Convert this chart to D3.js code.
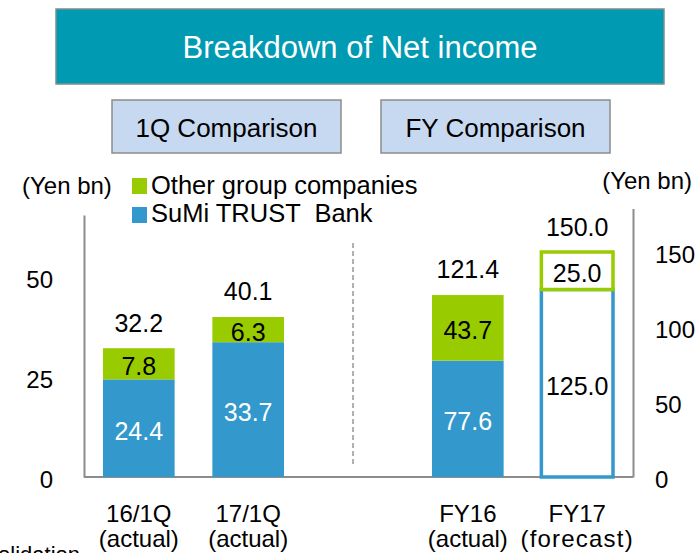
<!DOCTYPE html>
<html>
<head>
<meta charset="utf-8">
<script src="https://cdn.jsdelivr.net/npm/d3@7"></script>
<style>
  html, body { margin: 0; padding: 0; background: #fff; overflow: hidden; }
  svg { display: block; font-family: "Liberation Sans", Arial, sans-serif; }
</style>
</head>
<body>
<div id="app"></div>
<script>
// values (Yen bn)
const quarters = ['16/1Q', '17/1Q']
const qBank = [24.4, 33.7]
const qOther = [7.8, 6.3]
const qTotal = [32.2, 40.1]

const years = ['FY16', 'FY17']
const fyBank = [77.6, 125.0]
const fyOther = [43.7, 25.0]
const fyTotal = [121.4, 150.0]

const qSub = ['(actual)', '(actual)']
const fySub = ['(actual)', '(forecast)']
const fyForecast = [false, true]

const leftTicks = [0, 25, 50]
const rightTicks = [0, 50, 100, 150]

const seriesNames = ['Other group companies', 'SuMi TRUST  Bank']

const w = 697
const h = 553
const green = '#99cc00'
const blue = '#3399cc'
const grey = '#8c8c8c'

const svg = d3.select('#app')
  .append('svg')
  .attr('width', w)
  .attr('height', h)

// header boxes
svg.append('rect')
  .attr('x', 56).attr('y', 9).attr('width', 608).attr('height', 75)
  .attr('fill', '#009ab2').attr('stroke', '#7f8c8d').attr('stroke-width', 1.5)
svg.append('text')
  .attr('x', 360).attr('y', 58)
  .attr('text-anchor', 'middle')
  .attr('font-size', 31)
  .attr('fill', '#fff')
  .text('Breakdown of Net income')

const boxes = [{ x: 112, label: '1Q Comparison' }, { x: 381, label: 'FY Comparison' }]
boxes.forEach(b => {
  svg.append('rect')
    .attr('x', b.x).attr('y', 100).attr('width', 229).attr('height', 53)
    .attr('fill', '#c6d9f0').attr('stroke', grey).attr('stroke-width', 1.5)
  svg.append('text')
    .attr('x', b.x + 114.5).attr('y', 137)
    .attr('text-anchor', 'middle')
    .attr('font-size', 26)
    .attr('fill', '#000')
    .text(b.label)
})

// scales
const yL = d3.scaleLinear().domain([0, 65.5]).range([477, 215])
const yR = d3.scaleLinear().domain([0, 179]).range([477, 208.5])
const xQ = d3.scaleBand().domain(quarters).range([103, 284]).paddingInner(0.345)
const xF = d3.scaleBand().domain(years).range([432, 613]).paddingInner(0.345)

// axes
const leftAxis = svg.append('g')
  .attr('transform', 'translate(84,0)')
  .call(d3.axisLeft(yL).tickValues(leftTicks).tickSize(0).tickPadding(31))
const rightAxis = svg.append('g')
  .attr('transform', 'translate(633,0)')
  .call(d3.axisRight(yR).tickValues(rightTicks).tickSize(0).tickPadding(22))

;[leftAxis, rightAxis].forEach(g => {
  g.select('.domain').attr('stroke', grey).attr('stroke-width', 2)
  g.selectAll('text')
    .attr('font-size', 24)
    .attr('font-family', '"Liberation Sans", Arial, sans-serif')
    .attr('fill', '#000')
    .attr('dy', '0.45em')
})

// baseline
svg.append('line')
  .attr('x1', 84).attr('x2', 633)
  .attr('y1', yL(0)).attr('y2', yL(0))
  .attr('stroke', grey).attr('stroke-width', 2)

// divider
svg.append('line')
  .attr('x1', 353).attr('x2', 353)
  .attr('y1', 243).attr('y2', 467)
  .attr('stroke', '#999').attr('stroke-width', 1.5)
  .attr('stroke-dasharray', '5,3')

// units
svg.append('text')
  .attr('x', 22).attr('y', 194)
  .attr('font-size', 24)
  .text('(Yen bn)')
svg.append('text')
  .attr('x', 692).attr('y', 189)
  .attr('text-anchor', 'end')
  .attr('font-size', 24)
  .text('(Yen bn)')

// legend
const legend = svg.append('g')
legend.selectAll('rect')
  .data(seriesNames)
  .enter()
  .append('rect')
  .attr('x', 132)
  .attr('y', (d, i) => 178 + i * 29)
  .attr('width', 15)
  .attr('height', 16)
  .attr('fill', (d, i) => i === 0 ? green : blue)
legend.selectAll('text')
  .data(seriesNames)
  .enter()
  .append('text')
  .attr('x', 151)
  .attr('y', (d, i) => 194 + i * 28)
  .attr('font-size', 25.5)
  .style('white-space', 'pre')
  .text(d => d)

function drawGroup (cats, bank, other, total, subs, forecast, x, y) {
  const g = svg.append('g')
  cats.forEach((c, i) => {
    const x0 = x(c)
    const bw = x.bandwidth()
    const cx = x0 + bw / 2
    const yb = y(bank[i])
    const yt = y(bank[i] + other[i])
    const isF = forecast && forecast[i]

    g.append('rect')
      .attr('x', x0).attr('y', yb)
      .attr('width', bw).attr('height', y(0) - yb)
      .attr('fill', isF ? '#fff' : blue)
      .attr('stroke', isF ? blue : 'none')
      .attr('stroke-width', isF ? 3.5 : 0)
    g.append('rect')
      .attr('x', x0).attr('y', yt)
      .attr('width', bw).attr('height', yb - yt)
      .attr('fill', isF ? '#fff' : green)
      .attr('stroke', isF ? green : 'none')
      .attr('stroke-width', isF ? 3.5 : 0)

    g.append('text')
      .attr('x', cx).attr('y', (yb + y(0)) / 2 + 11.5)
      .attr('text-anchor', 'middle').attr('font-size', 25)
      .attr('fill', isF ? '#000' : '#fff')
      .text(bank[i].toFixed(1))
    g.append('text')
      .attr('x', cx).attr('y', (yt + yb) / 2 + 11)
      .attr('text-anchor', 'middle').attr('font-size', 25)
      .text(other[i].toFixed(1))
    g.append('text')
      .attr('x', cx).attr('y', y(total[i]) - 16.5)
      .attr('text-anchor', 'middle').attr('font-size', 25)
      .text(total[i].toFixed(1))

    g.append('text')
      .attr('x', cx).attr('y', 521.5)
      .attr('text-anchor', 'middle').attr('font-size', 24)
      .text(c)
    g.append('text')
      .attr('x', cx).attr('y', 547)
      .attr('text-anchor', 'middle').attr('font-size', 24)
      .attr('letter-spacing', isF ? 1.2 : 0)
      .text(subs[i])
  })
}

drawGroup(quarters, qBank, qOther, qTotal, qSub, null, xQ, yL)
drawGroup(years, fyBank, fyOther, fyTotal, fySub, fyForecast, xF, yR)

// clipped footnote at the bottom edge
svg.append('text')
  .attr('x', 80).attr('y', 562)
  .attr('text-anchor', 'end')
  .attr('font-size', 22)
  .text('Consolidation')
</script>
</body>
</html>
